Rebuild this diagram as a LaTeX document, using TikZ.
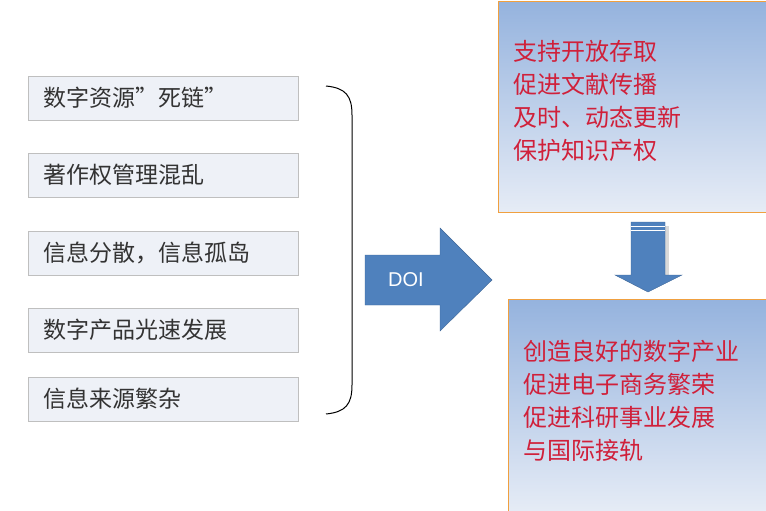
\documentclass[tikz,border=0pt]{standalone}
\usepackage{fontspec}
\newfontfamily\cjk{Noto Sans CJK SC}
\setmainfont{Liberation Sans}
\definecolor{arrblue}{HTML}{4F81BD}
\definecolor{gtop}{HTML}{95B3DE}
\definecolor{gbot}{HTML}{E6ECF6}
\definecolor{lfill}{HTML}{EEF1F7}
\definecolor{rtxt}{HTML}{D0203A}
\definecolor{obord}{HTML}{F0A040}
\begin{document}
\begin{tikzpicture}[x=1pt,y=-1pt,
  lbox/.style={draw=black!25,fill=lfill,minimum width=270pt,minimum height=44pt,anchor=north west,inner sep=0pt},
  rbox/.style={draw=obord,line width=1pt,top color=gtop,bottom color=gbot,anchor=north west,inner sep=0pt},
  ltext/.style={font=\cjk\fontsize{23}{26}\selectfont,text=black!80,anchor=west},
  rtext/.style={font=\cjk\fontsize{24}{33}\selectfont,text=rtxt,anchor=north west,align=left},
  arr/.style={fill=arrblue,draw=arrblue!80!black}]
\useasboundingbox (0,0) rectangle (766,511);
\foreach \y/\t [count=\i] in {76/数字资源”死链”,153/著作权管理混乱,231/信息分散，信息孤岛,308/数字产品光速发展,377/信息来源繁杂}{
  \node[lbox] (b\i) at (28,\y) {};
  \node[ltext] (t\i) at (40,\y+22) {\t};
}
\draw[line width=1pt] (326,86) .. controls (346,88) and (352,96) .. (352,115) -- (352,385) .. controls (352,404) and (346,412) .. (326,414);
\draw[arr] (365,255) -- (440,255) -- (440,228) -- (492,280) -- (440,331) -- (440,305) -- (365,305) -- cycle;
\node[font=\fontsize{20}{24}\selectfont,text=white] (doi) at (406,280) {DOI};
\node[rbox,minimum width=272pt,minimum height=211pt] (top) at (498,1) {};
\node[rtext] (tt) at (510,37) {支持开放存取\\促进文献传播\\及时、动态更新\\保护知识产权};
\fill[gray!30] (634,226) rectangle (669,280);
\draw[arr] (631,222) -- (665,222) -- (665,275) -- (682,275) -- (648,292) -- (615,275) -- (631,275) -- cycle;
\draw[white,line width=1pt] (631,226) -- (665,226) (631,230) -- (665,230);
\node[rbox,minimum width=262pt,minimum height=213pt] (bot) at (508,299) {};
\node[rtext] (bt) at (520,337) {创造良好的数字产业\\促进电子商务繁荣\\促进科研事业发展\\与国际接轨};
\end{tikzpicture}
\end{document}
